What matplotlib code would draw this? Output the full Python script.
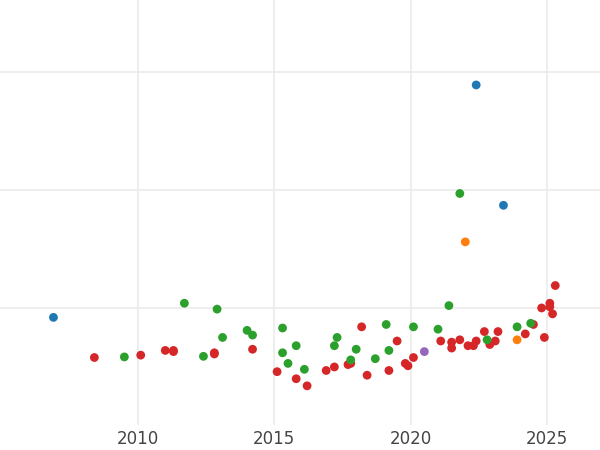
import matplotlib
matplotlib.use("Agg")
import matplotlib.pyplot as plt

blue_x = [2006.9, 2022.4, 2023.4]
blue_y = [0.92, 2.89, 1.87]
orange_x = [2022.0, 2023.9]
orange_y = [1.56, 0.73]
purple_x = [2020.5]
purple_y = [0.63]
green_x = [2009.5, 2011.7, 2012.4, 2012.9, 2013.1, 2014.0, 2014.2, 2015.3, 2015.3, 2015.5,
           2015.8, 2016.1, 2017.2, 2017.3, 2017.8, 2018.0, 2018.7, 2019.1, 2019.2, 2020.1,
           2021.0, 2021.4, 2021.8, 2022.8, 2023.9, 2024.4]
green_y = [0.585, 1.04, 0.59, 0.99, 0.75, 0.81, 0.77, 0.83, 0.62, 0.53,
           0.68, 0.48, 0.68, 0.75, 0.56, 0.65, 0.57, 0.86, 0.64, 0.84,
           0.82, 1.02, 1.97, 0.73, 0.84, 0.87]
red_x = [2008.4, 2010.1, 2011.0, 2011.3, 2011.3, 2012.8, 2012.8, 2014.2, 2015.1, 2015.8,
         2016.2, 2016.9, 2017.2, 2017.7, 2017.8, 2018.2, 2018.4, 2019.2, 2019.5, 2019.8,
         2019.9, 2020.1, 2021.1, 2021.5, 2021.5, 2021.8, 2022.1, 2022.3, 2022.4, 2022.7,
         2022.9, 2023.1, 2023.2, 2024.2, 2024.5, 2024.8, 2024.9, 2025.1, 2025.1, 2025.2, 2025.3]
red_y = [0.58, 0.60, 0.64, 0.64, 0.63, 0.61, 0.62, 0.65, 0.46, 0.40,
         0.34, 0.47, 0.50, 0.52, 0.53, 0.84, 0.43, 0.47, 0.72, 0.53,
         0.51, 0.58, 0.72, 0.66, 0.71, 0.73, 0.68, 0.68, 0.72, 0.80,
         0.69, 0.72, 0.80, 0.78, 0.86, 1.00, 0.75, 1.04, 1.01, 0.95, 1.19]
x_ticks = [2010, 2015, 2020, 2025]

fig = plt.figure(figsize=(6, 4.5), dpi=100)
ax = fig.add_axes([0, 25/450, 1, 425/450])
for xs, ys, c in [(red_x, red_y, "#d62728"), (green_x, green_y, "#2ca02c"),
                  (blue_x, blue_y, "#1f77b4"), (orange_x, orange_y, "#ff7f0e"),
                  (purple_x, purple_y, "#9467bd")]:
    ax.scatter(xs, ys, s=40, color=c, edgecolors="none", zorder=3)
ax.set_xlim(2004.94, 2026.94)
ax.set_ylim(0.008, 3.61)
ax.set_xticks(x_ticks)
ax.set_yticks([1, 2, 3])
ax.set_yticklabels([])
ax.tick_params(length=0, labelsize=12, colors="#444444")
ax.grid(True, color="#ebebeb", linewidth=1.2)
for s in ax.spines.values():
    s.set_visible(False)
fig.savefig("out.png", dpi=100)
